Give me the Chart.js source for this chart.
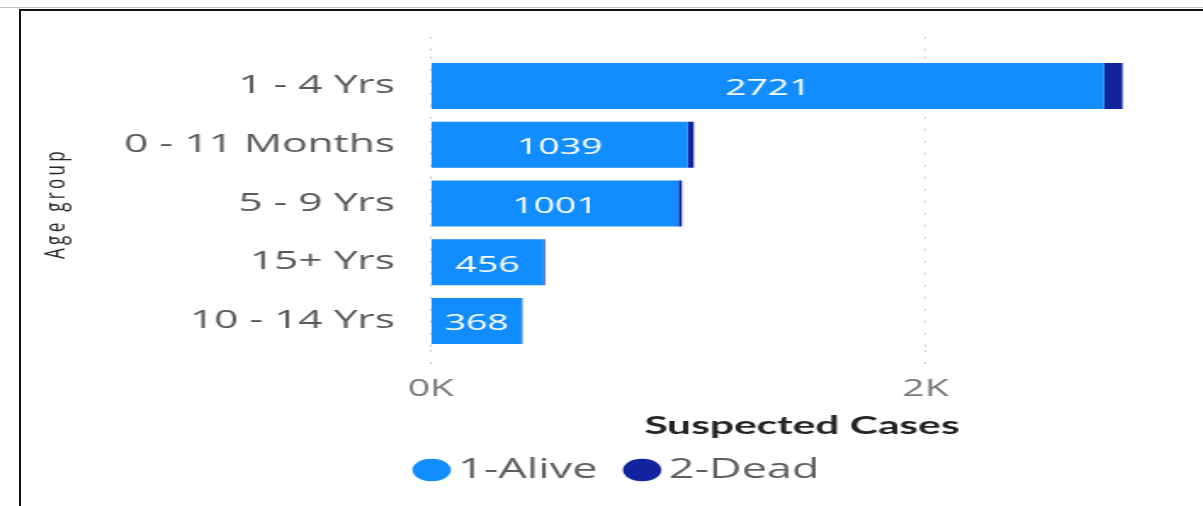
<!DOCTYPE html>
<html>
<head>
<meta charset="utf-8">
<script src="https://cdn.jsdelivr.net/npm/chart.js@4.4.1/dist/chart.umd.min.js"></script>
<style>
  html, body { margin: 0; padding: 0; background: #ffffff; overflow: hidden; }
  body { width: 1203px; height: 506px; position: relative; }
  #topline { position: absolute; left: 0; top: 7px; width: 1203px; height: 1px; background: #c4c4c4; }
  #frame { position: absolute; left: 19px; top: 9px; right: 0; bottom: 0;
           border-left: 2px solid #111; border-top: 2px solid #111; }
  #wrap { position: absolute; left: 0; top: 0; width: 708px; height: 506px;
          transform: scaleX(1.6992); transform-origin: 0 0; }
</style>
</head>
<body>
<div id="topline"></div>
<div id="frame"></div>
<div id="wrap"><canvas id="chart"></canvas></div>
<script>
// ---- data ----
const categories = ['1 - 4 Yrs', '0 - 11 Months', '5 - 9 Yrs', '15+ Yrs', '10 - 14 Yrs'];
const aliveValues = [2721, 1039, 1001, 456, 368];
const deadValues = [75, 24, 14, 5, 2];
const seriesNames = ['1-Alive', '2-Dead'];
const xTickValues = [0, 2000];
const xTickLabels = ['0K', '2K'];
const xAxisTitle = 'Suspected Cases';
const yAxisTitle = 'Age group';

// ---- in-bar value labels ----
const valueLabels = {
  id: 'valueLabels',
  afterDatasetsDraw(chart) {
    const meta = chart.getDatasetMeta(0);
    const ctx = chart.ctx;
    ctx.save();
    ctx.font = '22px "Open Sans"';
    ctx.fillStyle = '#ffffff';
    ctx.textAlign = 'center';
    ctx.textBaseline = 'middle';
    meta.data.forEach((bar, i) => {
      const p = bar.getProps(['x', 'y', 'base'], true);
      ctx.fillText(String(chart.data.datasets[0].data[i]), (p.x + p.base) / 2, p.y + 3);
    });
    ctx.restore();
  }
};

const gridColor = '#c8c8c8';
const dotDash = [2, 10];
const fixTicks = s => { s.ticks = xTickValues.map(v => ({ value: v })); };

new Chart(document.getElementById('chart'), {
  type: 'bar',
  data: {
    labels: categories,
    datasets: [
      { label: seriesNames[0], data: aliveValues, backgroundColor: '#118DFF', borderWidth: 0,
        barPercentage: 0.783, categoryPercentage: 1 },
      { label: seriesNames[1], data: deadValues, backgroundColor: '#12239E', borderWidth: 0,
        barPercentage: 0.783, categoryPercentage: 1 }
    ]
  },
  options: {
    indexAxis: 'y',
    responsive: true,
    maintainAspectRatio: false,
    animation: false,
    events: [],
    layout: { padding: { left: 43.6, right: 17.7, top: 36.6, bottom: 12.75 } },
    plugins: {
      tooltip: { enabled: false },
      legend: {
        position: 'bottom',
        labels: {
          usePointStyle: true, pointStyle: 'circle',
          boxWidth: 4.7, boxHeight: 16, padding: 24,
          color: '#605E5C',
          font: { family: 'Open Sans', size: 26.5 }
        }
      }
    },
    scales: {
      x: {
        type: 'linear', position: 'bottom', stacked: true,
        min: 0, max: 3000,
        afterBuildTicks: fixTicks,
        afterFit: s => { s.height = 82.35; },
        ticks: {
          padding: 7.8,
          color: '#777777', font: { family: 'Open Sans', size: 23 },
          callback: (v, i) => xTickLabels[i]
        },
        grid: { color: gridColor, lineWidth: 1, tickLength: 17, tickColor: gridColor, tickBorderDash: dotDash },
        border: { display: false, dash: dotDash },
        title: {
          display: true, text: xAxisTitle, color: '#252423',
          font: { family: 'Lato', weight: 'bold', size: 25 },
          padding: { top: 0, bottom: -8.25 }
        }
      },
      x2: {
        type: 'linear', position: 'top',
        min: 0, max: 3000,
        afterBuildTicks: fixTicks,
        afterFit: s => { s.height = 20; },
        ticks: { display: false },
        grid: { drawOnChartArea: false, tickLength: 20, tickColor: gridColor, tickBorderDash: dotDash },
        border: { display: false }
      },
      y: {
        stacked: true,
        afterFit: s => {
          s.width = 253.5 - 43.6;
          if (!s._spaced) {
            const orig = s.drawTitle;
            s.drawTitle = function () {
              const c = this.ctx; c.save(); c.letterSpacing = '3.3px'; orig.call(this); c.restore();
            };
            s._spaced = true;
          }
        },
        grid: { display: false, drawTicks: false },
        border: { display: false },
        ticks: { padding: 21, color: '#5a5856', font: { family: 'Open Sans', size: 25 } },
        title: {
          display: true, text: yAxisTitle, color: '#252423',
          font: { family: 'Open Sans', size: 17 },
          padding: { top: -20.7, bottom: 0 }
        }
      }
    }
  },
  plugins: [valueLabels]
});
</script>
</body>
</html>
